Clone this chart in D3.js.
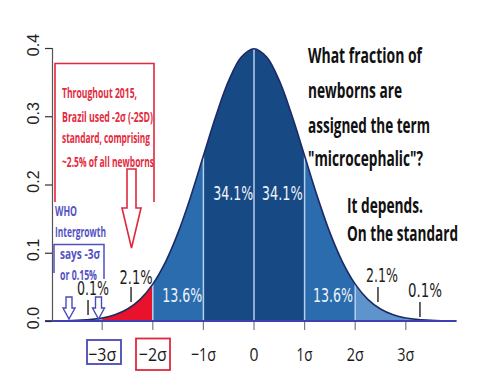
<!DOCTYPE html>
<html>
<head>
<meta charset="utf-8">
<script src="https://cdn.jsdelivr.net/npm/d3@7"></script>
<style>
  body { margin: 0; background: #fff; }
  svg { display: block; }
</style>
</head>
<body>
<div id="chart"></div>
<script>
// density, every quarter sigma from -4 to 4
var zGrid = [-4,-3.75,-3.5,-3.25,-3,-2.75,-2.5,-2.25,-2,-1.75,-1.5,-1.25,-1,-0.75,-0.5,-0.25,
             0,0.25,0.5,0.75,1,1.25,1.5,1.75,2,2.25,2.5,2.75,3,3.25,3.5,3.75,4];
var density = [0.0001,0.0004,0.0009,0.0020,0.0044,0.0091,0.0175,0.0317,0.0540,0.0863,0.1295,0.1826,0.2420,0.3011,0.3521,0.3867,
               0.3989,0.3867,0.3521,0.3011,0.2420,0.1826,0.1295,0.0863,0.0540,0.0317,0.0175,0.0091,0.0044,0.0020,0.0009,0.0004,0.0001];

// shaded bands (sigma bounds) and their share
var bandFrom = [-4,-3,-2,-1,0,1,2,3];
var bandTo   = [-3,-2,-1,0,1,2,3,4];
var bandPct  = ["0.1%","2.1%","13.6%","34.1%","34.1%","13.6%","2.1%","0.1%"];
var bandColor = ["#6d9bd2","#e8122c","#2b6cae","#174a84","#174a84","#2b6cae","#5f93cc","#6d9bd2"];

var sigmaTicks = [-3,-2,-1,0,1,2,3];
var sigmaLabels = ["\u22123\u03c3","\u22122\u03c3","\u22121\u03c3","0","1\u03c3","2\u03c3","3\u03c3"];
var yTicks = [0,0.1,0.2,0.3,0.4];
var dividers = [-2,-1,0,1,2];

var svg = d3.select("#chart").append("svg")
    .attr("width", 500)
    .attr("height", 386);

var x = d3.scaleLinear().domain([-4,4]).range([51.6,456.4]);
var y = d3.scaleLinear().domain([0,0.4]).range([321,48]);

var pts = zGrid.map(function(z,i){ return [z, density[i]]; });

var area = d3.area()
    .x(function(d){ return x(d[0]); })
    .y0(y(0))
    .y1(function(d){ return y(d[1]); })
    .curve(d3.curveCatmullRom);

var line = d3.line()
    .x(function(d){ return x(d[0]); })
    .y(function(d){ return y(d[1]); })
    .curve(d3.curveCatmullRom);

svg.append("clipPath").attr("id","under")
  .append("path").attr("d", area(pts));

// bands clipped to the area under the curve
svg.append("g").attr("clip-path","url(#under)")
  .selectAll("rect")
  .data(bandFrom)
  .enter().append("rect")
    .attr("x", function(d){ return x(d); })
    .attr("width", function(d,i){ return x(bandTo[i]) - x(d); })
    .attr("y", y(0.4) - 2)
    .attr("height", y(0) - y(0.4) + 2)
    .attr("fill", function(d,i){ return bandColor[i]; });

// light lines at band borders
svg.append("g").attr("clip-path","url(#under)")
  .selectAll("line")
  .data(dividers)
  .enter().append("line")
    .attr("x1", function(d){ return x(d); })
    .attr("x2", function(d){ return x(d); })
    .attr("y1", y(0))
    .attr("y2", y(0.4) - 2)
    .attr("stroke", "#b4d0ee")
    .attr("stroke-width", 1.5);

svg.append("path")
    .attr("d", line(pts))
    .attr("fill", "none")
    .attr("stroke", "#1b2b66")
    .attr("stroke-width", 1.6);

// baseline
svg.append("line")
    .attr("x1", x(-4.13)).attr("x2", x(4))
    .attr("y1", y(0)).attr("y2", y(0))
    .attr("stroke", "#3f3fb0")
    .attr("stroke-width", 2);

// x ticks
svg.append("g").selectAll("line")
  .data(sigmaTicks)
  .enter().append("line")
    .attr("x1", function(d){ return x(d); })
    .attr("x2", function(d){ return x(d); })
    .attr("y1", y(0) + 1)
    .attr("y2", y(0) + 9)
    .attr("stroke", "#7a7a90")
    .attr("stroke-width", 1.2);

var sigmaW = [28,28,25,9,16,17,17];
svg.append("g").selectAll("text")
  .data(sigmaTicks)
  .enter().append("text")
    .attr("x", function(d){ return x(d); })
    .attr("y", 361)
    .attr("text-anchor", "middle")
    .attr("font-family", "'Open Sans', sans-serif")
    .attr("font-size", 19)
    .attr("fill", "#1a1a1a")
    .attr("textLength", function(d,i){ return sigmaW[i]; })
    .attr("lengthAdjust", "spacingAndGlyphs")
    .text(function(d,i){ return sigmaLabels[i]; });

// boxes round -3σ and -2σ
svg.append("rect").attr("x", 87).attr("y", 340).attr("width", 34).attr("height", 24)
    .attr("fill","none").attr("stroke","#4a4ab8").attr("stroke-width",1.8);
svg.append("rect").attr("x", 136).attr("y", 338.5).attr("width", 34).attr("height", 31.5)
    .attr("fill","none").attr("stroke","#e0283c").attr("stroke-width",1.8);

// y axis, R style with rotated labels
var yAxis = d3.axisLeft(y).tickValues(yTicks).tickSize(7).tickFormat("");
var ya = svg.append("g")
    .attr("transform", "translate(52,0)")
    .call(yAxis);
ya.select(".domain").attr("stroke", "#555").attr("stroke-width", 1.2);
ya.selectAll(".tick line").attr("stroke", "#333").attr("stroke-width", 1.2);

svg.append("g").selectAll("text")
  .data(yTicks)
  .enter().append("text")
    .attr("transform", function(d){ return "translate(39," + (y(d) - 3) + ") rotate(-90)"; })
    .attr("text-anchor", "middle")
    .attr("font-family", "'Liberation Sans', Arial, sans-serif")
    .attr("font-size", 16)
    .attr("fill", "#222")
    .text(function(d){ return d3.format(".1f")(d); });

// percent labels (positions are layout, in sigma units)
var pctAt  = [-3.18,-2.33,-1.42,-0.41,0.56,1.56,2.53,3.38];
var pctY   = [288,277,295,193,193,295,275,290];
var pctW   = [32,33,40,40,41,40,32,34];
var pctInside = [false,false,true,true,true,true,false,false];
svg.append("g").selectAll("text")
  .data(bandPct)
  .enter().append("text")
    .attr("x", function(d,i){ return x(pctAt[i]); })
    .attr("y", function(d,i){ return pctY[i] + 7; })
    .attr("text-anchor", "middle")
    .attr("font-family", "'DejaVu Sans', sans-serif")
    .attr("font-size", 19)
    .attr("fill", function(d,i){ return pctInside[i] ? "#eef3fb" : "#1e1e1e"; })
    .attr("textLength", function(d,i){ return pctW[i]; })
    .attr("lengthAdjust", "spacingAndGlyphs")
    .text(function(d){ return d; });

// small pointer strokes under the outer labels
var pointerX = [-3.28,-2.43,2.45,3.28];
var pointerY = [300,287,287,302];
svg.append("g").selectAll("line")
  .data(pointerX)
  .enter().append("line")
    .attr("x1", function(d){ return x(d); })
    .attr("x2", function(d){ return x(d); })
    .attr("y1", function(d,i){ return pointerY[i]; })
    .attr("y2", function(d,i){ return pointerY[i] + 15; })
    .attr("stroke", "#222")
    .attr("stroke-width", 1.4);

// red annotation
var redLines = ["Throughout 2015,","Brazil used -2\u03c3 (-2SD)","standard, comprising","~2.5% of all newborns"];
var redY = [93,117,138,162];
var redW = [75,91,88,92];
svg.append("path")
    .attr("d", "M55,202 V63.5 H154 V202")
    .attr("fill","none").attr("stroke","#e0283c").attr("stroke-width",1.6);
svg.append("g").selectAll("text")
  .data(redLines)
  .enter().append("text")
    .attr("x", 62)
    .attr("y", function(d,i){ return redY[i] + 5; })
    .attr("font-family", "'Open Sans', sans-serif")
    .attr("font-weight", "bold")
    .attr("font-size", 15)
    .attr("fill", "#e42a3e")
    .attr("textLength", function(d,i){ return redW[i]; })
    .attr("lengthAdjust", "spacingAndGlyphs")
    .text(function(d){ return d; });
// hollow down arrow
svg.append("path")
    .attr("d", "M127,169 H136 V208 H141 L131.5,248 L122,208 H127 Z")
    .attr("fill","#fff").attr("stroke","#e0283c").attr("stroke-width",1.6);

// blue annotation
var blueLines = ["WHO","Intergrowth","says -3\u03c3","or 0.15%"];
var blueX = [55,55,60,60];
var blueY = [211,232,254,275];
var blueW = [22,51,40,37];
svg.append("path")
    .attr("d", "M54,273 V244.5 H104 V279")
    .attr("fill","none").attr("stroke","#5050c0").attr("stroke-width",1.5);
svg.append("g").selectAll("text")
  .data(blueLines)
  .enter().append("text")
    .attr("x", function(d,i){ return blueX[i]; })
    .attr("y", function(d,i){ return blueY[i] + 5; })
    .attr("font-family", "'Open Sans', sans-serif")
    .attr("font-weight", "bold")
    .attr("font-size", 13.5)
    .attr("fill", "#5252c4")
    .attr("textLength", function(d,i){ return blueW[i]; })
    .attr("lengthAdjust", "spacingAndGlyphs")
    .text(function(d){ return d; });
[69, 98.5].forEach(function(ax){
  svg.append("path")
    .attr("d", "M" + (ax-3) + ",297 V308 H" + (ax-6) + " L" + ax + ",319 L" + (ax+6) + ",308 H" + (ax+3) + " V297 Z")
    .attr("fill","#fff").attr("stroke","#4a4ab8").attr("stroke-width",1.4);
});

// question on the right
var qLines = ["What fraction of","newborns are","assigned the term","\"microcephalic\"?","It depends.","On the standard"];
var qX = [308,308,308,308,347,347];
var qY = [55,90,125,158,205,233];
var qW = [114,94,122,115,76,111];
svg.append("g").selectAll("text")
  .data(qLines)
  .enter().append("text")
    .attr("x", function(d,i){ return qX[i]; })
    .attr("y", function(d,i){ return qY[i] + 8; })
    .attr("font-family", "'Open Sans', sans-serif")
    .attr("font-weight", "bold")
    .attr("font-size", 22)
    .attr("fill", "#111")
    .attr("textLength", function(d,i){ return qW[i]; })
    .attr("lengthAdjust", "spacingAndGlyphs")
    .text(function(d){ return d; });
</script>
</body>
</html>
